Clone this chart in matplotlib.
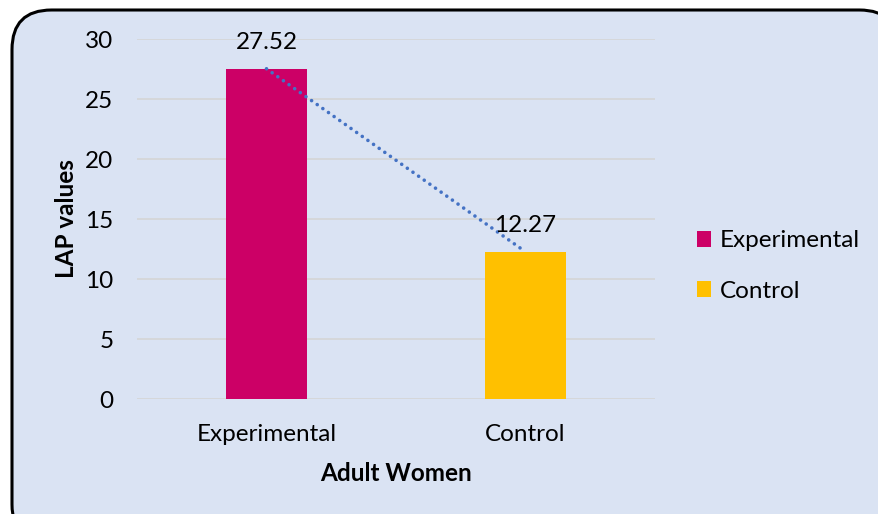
import matplotlib
matplotlib.use("Agg")
import matplotlib.pyplot as plt
from matplotlib.patches import FancyBboxPatch, Patch

categories = ["Experimental", "Control"]
values = [27.52, 12.27]
bar_colors = ["#CC0066", "#FFC000"]
y_ticks = [0, 5, 10, 15, 20, 25, 30]

plt.rcParams["font.family"] = ["Lato", "DejaVu Sans"]
FS = 17.5

W, H = 879, 514
fig = plt.figure(figsize=(W / 100, H / 100), dpi=100)
fig.patch.set_facecolor("white")

# Rounded chart frame, kept behind the axes
frame = FancyBboxPatch((12 / W, -30 / H), (W + 20 - 12) / W, (H + 30 - 10) / H,
                       boxstyle="round,pad=0,rounding_size=0.045",
                       transform=fig.transFigure, facecolor="#DAE3F3",
                       edgecolor="black", linewidth=2.2, zorder=-10,
                       mutation_aspect=W / H)
fig.patches.append(frame)

ax = fig.add_axes([137 / W, 1 - 399 / H, (655 - 137) / W, (399 - 39) / H])
ax.set_facecolor("none")
ax.set_zorder(2)

x = list(range(len(categories)))
bars = ax.bar(x, values, width=0.313, color=bar_colors, zorder=3)

# Linear trendline through the bar values (round-dot style)
ax.plot(x, values, linestyle=(0, (0.01, 1.9)), color="#4472C4", linewidth=2.6,
        dash_capstyle="round", zorder=4)

for xi, v in zip(x, values):
    ax.annotate(f"{v:.2f}", (xi, v), xytext=(0, 19), textcoords="offset points",
                ha="center", va="center", fontsize=FS, color="black", zorder=5)

ax.set_xlim(-0.5, 1.5)
ax.set_ylim(0, 30)
ax.set_yticks(y_ticks)
ax.set_xticks(x)
ax.set_xticklabels(categories)
ax.tick_params(axis="both", length=0, labelsize=FS, colors="black")
ax.tick_params(axis="y", pad=17)
ax.tick_params(axis="x", pad=18)
ax.yaxis.grid(True, color="#D5D5D5", linewidth=1.2, zorder=0)
for s in ax.spines.values():
    s.set_visible(False)

ax.set_ylabel("LAP values", fontsize=FS, fontweight="bold", labelpad=5)
ax.set_xlabel("Adult Women", fontsize=FS, fontweight="bold", labelpad=12)

handles = [Patch(facecolor=c, edgecolor="none") for c in bar_colors]
fig.legend(handles, categories, loc="center left",
           bbox_to_anchor=(675 / W, 1 - 266 / H), frameon=False, fontsize=FS,
           handlelength=0.6, handleheight=0.6, handletextpad=0.35,
           labelspacing=1.2)

fig.savefig("out.png", dpi=100, facecolor=fig.get_facecolor())
